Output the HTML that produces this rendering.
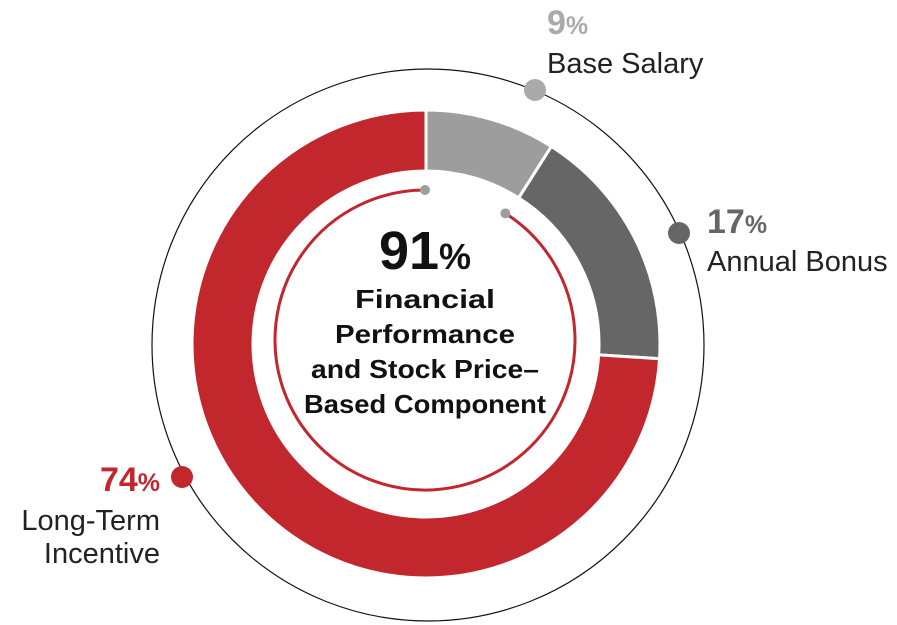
<!DOCTYPE html>
<html><head><meta charset="utf-8"><style>
html,body{margin:0;padding:0;background:#fff;}
svg{display:block;font-family:"Liberation Sans",sans-serif;}
</style></head><body>
<svg id="chart" width="897" height="625" viewBox="0 0 897 625">
<circle cx="428" cy="345" r="276" fill="none" stroke="#111" stroke-width="1.2"/>
<g id="slices"></g>
<g id="inner"></g>
<text x="425" y="269" text-anchor="middle" font-size="54" font-weight="bold" fill="#111">91<tspan font-size="36">%</tspan></text>
<g font-size="26" font-weight="bold" fill="#111" text-anchor="middle">
<text x="425" y="308" textLength="140" lengthAdjust="spacingAndGlyphs">Financial</text>
<text x="425" y="343" textLength="180" lengthAdjust="spacingAndGlyphs">Performance</text>
<text x="425" y="378" textLength="228" lengthAdjust="spacingAndGlyphs">and Stock Price–</text>
<text x="425" y="413" textLength="242" lengthAdjust="spacingAndGlyphs">Based Component</text>
</g>
<circle cx="535" cy="90" r="11" fill="#aaaaaa"/>
<circle cx="679" cy="233" r="11" fill="#666666"/>
<circle cx="182" cy="477" r="11" fill="#c1272d"/>
<text x="547" y="34" font-size="34" font-weight="bold" fill="#aaaaaa">9<tspan font-size="25">%</tspan></text>
<text x="547" y="73" font-size="29" fill="#222">Base Salary</text>
<text x="707" y="233" font-size="34" font-weight="bold" fill="#666666">17<tspan font-size="25">%</tspan></text>
<text x="707" y="271" font-size="29" fill="#222">Annual Bonus</text>
<text x="160" y="491" text-anchor="end" font-size="34" font-weight="bold" fill="#c1272d">74<tspan font-size="25">%</tspan></text>
<text x="160" y="530" text-anchor="end" font-size="29" fill="#222">Long-Term</text>
<text x="160" y="563" text-anchor="end" font-size="29" fill="#222">Incentive</text>
</svg>
<script>
const categories = ["Base Salary", "Annual Bonus", "Long-Term Incentive"];
const values = [9, 17, 74];
const colors = ["#9d9d9d", "#666666", "#c1272d"];
const centerShare = [91];

const cx = 426, cy = 344, rOut = 234, rIn = 173;
const NS = "http://www.w3.org/2000/svg";
const total = values.reduce((a, b) => a + b, 0);
function ang(frac) { return frac * 2 * Math.PI - Math.PI / 2; }
function pt(r, a, ox, oy) { return [(ox || cx) + r * Math.cos(a), (oy || cy) + r * Math.sin(a)]; }
const g = document.getElementById("slices");
let acc = 0;
values.forEach((v, i) => {
  const a0 = ang(acc / total), a1 = ang((acc + v) / total);
  acc += v;
  const large = (a1 - a0) > Math.PI ? 1 : 0;
  const p0 = pt(rOut, a0), p1 = pt(rOut, a1), p2 = pt(rIn, a1), p3 = pt(rIn, a0);
  const path = document.createElementNS(NS, "path");
  path.setAttribute("d", `M${p0[0]},${p0[1]} A${rOut},${rOut} 0 ${large} 1 ${p1[0]},${p1[1]} L${p2[0]},${p2[1]} A${rIn},${rIn} 0 ${large} 0 ${p3[0]},${p3[1]} Z`);
  path.setAttribute("fill", colors[i]);
  path.setAttribute("stroke", "#fff");
  path.setAttribute("stroke-width", "3");
  
  
  g.appendChild(path);
});
const ig = document.getElementById("inner");
const icx = 425, icy = 340, ir = 150;
const s = 1 - centerShare[0] / 100;
const b0 = ang(s), b1 = ang(1);
const q0 = pt(ir, b0, icx, icy), q1 = pt(ir, b1, icx, icy);
const arc = document.createElementNS(NS, "path");
arc.setAttribute("d", `M${q0[0]},${q0[1]} A${ir},${ir} 0 1 1 ${q1[0]},${q1[1]}`);
arc.setAttribute("fill", "none");
arc.setAttribute("stroke", "#c1272d");
arc.setAttribute("stroke-width", "3");


ig.appendChild(arc);
[q0, q1].forEach((q, k) => {
  const c = document.createElementNS(NS, "circle");
  c.setAttribute("cx", q[0]); c.setAttribute("cy", q[1]); c.setAttribute("r", "5");
  c.setAttribute("fill", "#9d9d9d");
  
  
  ig.appendChild(c);
});
</script>
</body></html>
